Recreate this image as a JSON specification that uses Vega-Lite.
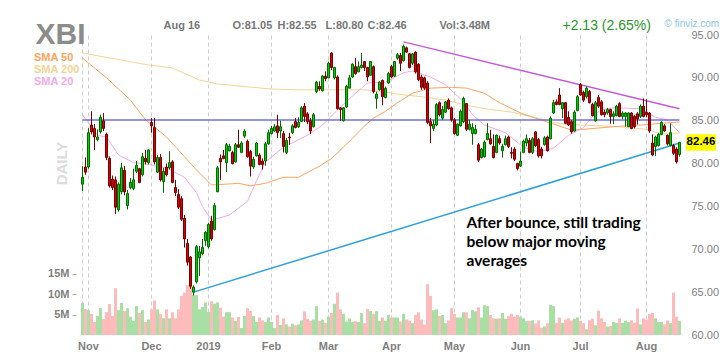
{
"$schema": "https://vega.github.io/schema/vega-lite/v6.json",
"width": 600, "height": 300,
"autosize": {"type": "none"},
"padding": {"left": 81, "top": 35, "right": 47, "bottom": 21},
"background": "white",
"config": {"view": {"stroke": null}, "font": "Liberation Sans",
"axisRight": {"grid": true, "gridColor": "#cfcfcf", "gridDash": [4,3], "domain": false, "ticks": false, "labelPadding": 10, "labelFontSize": 11, "labelColor": "#808080"}},
"datasets": {
"px": [
{"d":"2018-10-30","o":77.6,"h":79.7,"l":76.8,"c":78.4,"v":7.9},
{"d":"2018-10-31","o":79.6,"h":80.7,"l":78.7,"c":79.0,"v":6.4},
{"d":"2018-11-01","o":79.6,"h":84.15,"l":79.4,"c":83.6,"v":6.1},
{"d":"2018-11-02","o":84.5,"h":86.1,"l":83.4,"c":83.7,"v":5.2},
{"d":"2018-11-05","o":84.1,"h":84.6,"l":81.6,"c":83.1,"v":3.2},
{"d":"2018-11-06","o":82.8,"h":84.0,"l":82.6,"c":83.1,"v":4.7},
{"d":"2018-11-07","o":83.7,"h":85.7,"l":83.5,"c":85.4,"v":6.6},
{"d":"2018-11-08","o":85.0,"h":85.9,"l":83.8,"c":84.1,"v":3.9},
{"d":"2018-11-09","o":83.4,"h":83.6,"l":80.4,"c":80.7,"v":5.6},
{"d":"2018-11-12","o":80.6,"h":80.85,"l":77.2,"c":77.4,"v":7.6},
{"d":"2018-11-13","o":78.2,"h":78.6,"l":76.9,"c":77.2,"v":4.7},
{"d":"2018-11-14","o":78.1,"h":78.5,"l":74.1,"c":74.9,"v":11.5},
{"d":"2018-11-15","o":74.6,"h":77.8,"l":74.4,"c":77.6,"v":6.1},
{"d":"2018-11-16","o":76.7,"h":80.1,"l":76.4,"c":79.5,"v":7.9},
{"d":"2018-11-19","o":79.2,"h":79.7,"l":76.3,"c":76.7,"v":5.9},
{"d":"2018-11-20","o":75.1,"h":76.9,"l":74.65,"c":76.5,"v":6.6},
{"d":"2018-11-21","o":77.2,"h":78.3,"l":77.0,"c":77.8,"v":4.5},
{"d":"2018-11-23","o":77.1,"h":79.4,"l":76.9,"c":78.1,"v":3.5},
{"d":"2018-11-26","o":79.1,"h":80.3,"l":78.9,"c":79.8,"v":7.1},
{"d":"2018-11-27","o":79.4,"h":79.5,"l":77.7,"c":77.8,"v":5.4},
{"d":"2018-11-28","o":78.7,"h":81.25,"l":78.5,"c":80.8,"v":6.1},
{"d":"2018-11-29","o":80.6,"h":81.6,"l":79.9,"c":80.2,"v":3.2},
{"d":"2018-11-30","o":80.1,"h":81.6,"l":79.9,"c":81.6,"v":3.8},
{"d":"2018-12-03","o":84.8,"h":85.3,"l":83.6,"c":84.4,"v":6.3},
{"d":"2018-12-04","o":84.2,"h":85.3,"l":79.9,"c":80.2,"v":8.5},
{"d":"2018-12-06","o":79.0,"h":81.0,"l":78.9,"c":80.7,"v":6.3},
{"d":"2018-12-07","o":80.7,"h":81.1,"l":77.9,"c":78.1,"v":5.2},
{"d":"2018-12-10","o":77.9,"h":79.5,"l":76.6,"c":79.1,"v":4.1},
{"d":"2018-12-11","o":79.6,"h":80.0,"l":78.5,"c":78.7,"v":6.3},
{"d":"2018-12-12","o":79.5,"h":81.45,"l":79.3,"c":80.1,"v":4.1},
{"d":"2018-12-13","o":80.2,"h":80.4,"l":77.7,"c":77.8,"v":5.6},
{"d":"2018-12-14","o":77.2,"h":78.1,"l":76.2,"c":76.6,"v":4.1},
{"d":"2018-12-17","o":76.4,"h":77.0,"l":74.7,"c":74.9,"v":6.3},
{"d":"2018-12-18","o":75.9,"h":76.2,"l":73.3,"c":73.5,"v":9.6},
{"d":"2018-12-19","o":73.6,"h":74.0,"l":70.2,"c":71.2,"v":10.4},
{"d":"2018-12-20","o":70.7,"h":71.2,"l":68.1,"c":68.5,"v":12.3},
{"d":"2018-12-21","o":69.1,"h":69.2,"l":65.4,"c":65.7,"v":12.3},
{"d":"2018-12-24","o":65.0,"h":65.8,"l":64.6,"c":65.6,"v":9.8},
{"d":"2018-12-26","o":66.2,"h":70.5,"l":66.0,"c":70.3,"v":9.8},
{"d":"2018-12-27","o":69.0,"h":70.4,"l":66.9,"c":69.7,"v":6.3},
{"d":"2018-12-28","o":69.5,"h":71.2,"l":69.3,"c":70.2,"v":6.9},
{"d":"2018-12-31","o":71.0,"h":72.1,"l":70.4,"c":72.0,"v":8.0},
{"d":"2019-01-02","o":70.3,"h":73.1,"l":70.1,"c":72.9,"v":5.7},
{"d":"2019-01-03","o":73.3,"h":73.9,"l":71.0,"c":71.2,"v":8.3},
{"d":"2019-01-04","o":72.3,"h":75.4,"l":72.2,"c":75.1,"v":7.7},
{"d":"2019-01-07","o":76.7,"h":79.7,"l":76.7,"c":79.5,"v":8.0},
{"d":"2019-01-08","o":80.6,"h":81.05,"l":78.1,"c":80.2,"v":6.7},
{"d":"2019-01-09","o":80.9,"h":81.6,"l":80.5,"c":80.6,"v":4.5},
{"d":"2019-01-10","o":80.1,"h":82.4,"l":79.0,"c":82.2,"v":5.6},
{"d":"2019-01-11","o":81.5,"h":82.3,"l":81.4,"c":82.0,"v":5.6},
{"d":"2019-01-14","o":81.3,"h":81.5,"l":79.9,"c":80.0,"v":4.3},
{"d":"2019-01-15","o":80.2,"h":82.4,"l":80.1,"c":82.2,"v":3.5},
{"d":"2019-01-16","o":82.2,"h":83.95,"l":81.8,"c":81.9,"v":4.4},
{"d":"2019-01-17","o":81.3,"h":82.6,"l":81.2,"c":82.4,"v":1.7},
{"d":"2019-01-18","o":83.2,"h":84.0,"l":83.0,"c":83.8,"v":4.7},
{"d":"2019-01-22","o":82.6,"h":82.8,"l":80.7,"c":80.8,"v":6.6},
{"d":"2019-01-23","o":81.4,"h":81.6,"l":78.5,"c":79.7,"v":5.9},
{"d":"2019-01-24","o":79.6,"h":80.8,"l":79.4,"c":80.5,"v":4.7},
{"d":"2019-01-25","o":80.9,"h":82.5,"l":80.8,"c":82.4,"v":3.2},
{"d":"2019-01-28","o":81.0,"h":81.2,"l":79.8,"c":79.9,"v":4.3},
{"d":"2019-01-29","o":80.3,"h":80.6,"l":79.3,"c":79.9,"v":3.6},
{"d":"2019-01-30","o":80.3,"h":82.5,"l":79.75,"c":82.3,"v":3.2},
{"d":"2019-01-31","o":82.3,"h":83.95,"l":82.2,"c":83.6,"v":4.3},
{"d":"2019-02-01","o":83.5,"h":84.4,"l":83.4,"c":84.1,"v":3.2},
{"d":"2019-02-04","o":83.8,"h":84.6,"l":83.7,"c":84.3,"v":1.7},
{"d":"2019-02-05","o":84.4,"h":85.7,"l":83.0,"c":83.6,"v":4.9},
{"d":"2019-02-06","o":83.8,"h":85.0,"l":83.0,"c":84.3,"v":2.5},
{"d":"2019-02-07","o":83.5,"h":83.8,"l":81.3,"c":82.0,"v":4.1},
{"d":"2019-02-08","o":81.3,"h":83.0,"l":81.1,"c":82.7,"v":2.6},
{"d":"2019-02-11","o":83.1,"h":83.6,"l":82.2,"c":83.0,"v":2.1},
{"d":"2019-02-12","o":83.6,"h":84.6,"l":83.45,"c":84.4,"v":2.8},
{"d":"2019-02-13","o":84.9,"h":85.3,"l":84.1,"c":84.2,"v":2.4},
{"d":"2019-02-14","o":84.3,"h":85.4,"l":84.15,"c":84.8,"v":2.6},
{"d":"2019-02-15","o":84.9,"h":86.7,"l":84.85,"c":86.5,"v":3.6},
{"d":"2019-02-19","o":86.7,"h":87.05,"l":84.85,"c":85.5,"v":5.8},
{"d":"2019-02-20","o":85.8,"h":86.0,"l":84.6,"c":84.9,"v":4.0},
{"d":"2019-02-21","o":85.0,"h":85.3,"l":83.45,"c":83.8,"v":3.5},
{"d":"2019-02-22","o":84.3,"h":85.9,"l":84.2,"c":85.7,"v":3.8},
{"d":"2019-02-25","o":88.4,"h":89.65,"l":88.2,"c":89.5,"v":7.1},
{"d":"2019-02-26","o":89.0,"h":89.6,"l":88.5,"c":88.7,"v":3.5},
{"d":"2019-02-27","o":88.5,"h":90.35,"l":88.4,"c":90.2,"v":3.8},
{"d":"2019-02-28","o":90.2,"h":90.75,"l":89.6,"c":89.9,"v":3.0},
{"d":"2019-03-01","o":90.0,"h":91.9,"l":90.0,"c":91.7,"v":4.5},
{"d":"2019-03-04","o":92.9,"h":93.0,"l":90.9,"c":91.2,"v":5.4},
{"d":"2019-03-05","o":90.0,"h":91.3,"l":89.8,"c":91.2,"v":7.7},
{"d":"2019-03-06","o":90.1,"h":90.3,"l":86.3,"c":86.4,"v":10.4},
{"d":"2019-03-07","o":86.5,"h":86.6,"l":85.0,"c":86.3,"v":6.3},
{"d":"2019-03-08","o":85.0,"h":86.6,"l":84.9,"c":86.5,"v":5.2},
{"d":"2019-03-11","o":86.6,"h":89.2,"l":86.5,"c":89.0,"v":3.3},
{"d":"2019-03-12","o":88.8,"h":90.35,"l":88.8,"c":90.0,"v":4.1},
{"d":"2019-03-13","o":90.1,"h":91.7,"l":90.0,"c":91.6,"v":3.2},
{"d":"2019-03-14","o":91.3,"h":92.3,"l":90.35,"c":90.5,"v":3.4},
{"d":"2019-03-15","o":90.7,"h":91.9,"l":90.65,"c":91.3,"v":3.2},
{"d":"2019-03-18","o":91.2,"h":92.9,"l":91.1,"c":91.5,"v":5.4},
{"d":"2019-03-19","o":91.9,"h":91.9,"l":90.8,"c":91.2,"v":2.9},
{"d":"2019-03-20","o":91.2,"h":91.3,"l":89.6,"c":90.1,"v":6.4},
{"d":"2019-03-21","o":90.3,"h":91.9,"l":90.3,"c":91.9,"v":5.9},
{"d":"2019-03-22","o":91.3,"h":91.45,"l":88.2,"c":88.4,"v":5.2},
{"d":"2019-03-25","o":87.6,"h":88.4,"l":86.4,"c":88.1,"v":5.9},
{"d":"2019-03-26","o":88.6,"h":89.6,"l":88.5,"c":89.5,"v":3.5},
{"d":"2019-03-27","o":89.7,"h":89.8,"l":86.8,"c":87.8,"v":4.3},
{"d":"2019-03-28","o":87.7,"h":89.0,"l":87.6,"c":88.8,"v":3.5},
{"d":"2019-03-29","o":89.4,"h":90.7,"l":89.3,"c":90.5,"v":4.9},
{"d":"2019-04-01","o":91.3,"h":91.5,"l":90.0,"c":90.1,"v":4.3},
{"d":"2019-04-02","o":90.2,"h":91.9,"l":90.15,"c":91.9,"v":4.3},
{"d":"2019-04-03","o":92.3,"h":92.9,"l":92.1,"c":92.7,"v":4.3},
{"d":"2019-04-04","o":92.6,"h":92.9,"l":90.8,"c":91.7,"v":3.3},
{"d":"2019-04-05","o":92.0,"h":93.9,"l":91.9,"c":93.7,"v":5.2},
{"d":"2019-04-08","o":93.5,"h":93.65,"l":92.9,"c":93.0,"v":3.8},
{"d":"2019-04-09","o":92.8,"h":92.9,"l":91.1,"c":91.2,"v":3.5},
{"d":"2019-04-10","o":91.7,"h":92.9,"l":91.5,"c":92.8,"v":2.9},
{"d":"2019-04-11","o":93.0,"h":93.1,"l":90.5,"c":90.7,"v":4.9},
{"d":"2019-04-12","o":91.6,"h":91.7,"l":89.6,"c":89.8,"v":5.6},
{"d":"2019-04-15","o":90.1,"h":90.35,"l":88.6,"c":88.9,"v":3.8},
{"d":"2019-04-16","o":90.0,"h":90.15,"l":88.6,"c":88.8,"v":2.6},
{"d":"2019-04-17","o":89.4,"h":89.6,"l":84.6,"c":84.8,"v":12.5},
{"d":"2019-04-18","o":84.9,"h":85.3,"l":82.4,"c":84.4,"v":9.6},
{"d":"2019-04-22","o":84.1,"h":85.1,"l":83.8,"c":84.6,"v":6.1},
{"d":"2019-04-23","o":84.5,"h":87.05,"l":84.35,"c":86.9,"v":6.3},
{"d":"2019-04-24","o":87.1,"h":87.25,"l":85.5,"c":85.7,"v":4.7},
{"d":"2019-04-25","o":85.3,"h":86.7,"l":85.1,"c":86.3,"v":4.9},
{"d":"2019-04-26","o":86.0,"h":87.3,"l":85.9,"c":87.2,"v":2.9},
{"d":"2019-04-29","o":87.4,"h":87.6,"l":86.3,"c":86.4,"v":3.6},
{"d":"2019-04-30","o":86.5,"h":86.65,"l":84.9,"c":85.1,"v":6.6},
{"d":"2019-05-01","o":85.1,"h":85.3,"l":83.4,"c":83.5,"v":5.2},
{"d":"2019-05-02","o":83.3,"h":84.7,"l":83.2,"c":84.6,"v":4.3},
{"d":"2019-05-03","o":84.4,"h":86.3,"l":84.3,"c":86.1,"v":4.3},
{"d":"2019-05-06","o":84.9,"h":87.8,"l":84.7,"c":87.6,"v":5.6},
{"d":"2019-05-07","o":87.0,"h":87.05,"l":83.8,"c":84.0,"v":5.6},
{"d":"2019-05-08","o":84.0,"h":85.1,"l":83.85,"c":84.6,"v":4.1},
{"d":"2019-05-09","o":83.5,"h":84.7,"l":82.2,"c":84.2,"v":6.1},
{"d":"2019-05-10","o":83.5,"h":84.5,"l":83.4,"c":84.0,"v":5.8},
{"d":"2019-05-13","o":82.2,"h":82.4,"l":80.2,"c":80.4,"v":6.8},
{"d":"2019-05-14","o":80.7,"h":81.8,"l":80.6,"c":81.7,"v":4.3},
{"d":"2019-05-15","o":80.8,"h":82.7,"l":80.7,"c":82.5,"v":7.3},
{"d":"2019-05-16","o":82.8,"h":84.7,"l":82.7,"c":83.5,"v":7.1},
{"d":"2019-05-17","o":82.9,"h":83.95,"l":82.2,"c":82.3,"v":4.9},
{"d":"2019-05-20","o":82.0,"h":83.4,"l":80.6,"c":80.7,"v":4.1},
{"d":"2019-05-21","o":81.3,"h":83.4,"l":81.2,"c":83.3,"v":4.0},
{"d":"2019-05-22","o":82.9,"h":83.25,"l":82.2,"c":82.4,"v":4.1},
{"d":"2019-05-23","o":81.5,"h":82.3,"l":80.7,"c":82.0,"v":5.4},
{"d":"2019-05-24","o":82.2,"h":83.25,"l":82.1,"c":82.9,"v":4.0},
{"d":"2019-05-28","o":83.1,"h":83.25,"l":81.8,"c":82.0,"v":4.7},
{"d":"2019-05-29","o":81.3,"h":81.9,"l":80.6,"c":81.2,"v":5.2},
{"d":"2019-05-30","o":81.7,"h":81.9,"l":80.3,"c":80.5,"v":4.5},
{"d":"2019-05-31","o":80.0,"h":80.1,"l":79.2,"c":79.4,"v":4.9},
{"d":"2019-06-03","o":79.7,"h":81.4,"l":79.6,"c":80.3,"v":4.5},
{"d":"2019-06-04","o":81.3,"h":82.8,"l":81.2,"c":82.6,"v":4.1},
{"d":"2019-06-05","o":82.4,"h":83.4,"l":82.0,"c":82.9,"v":3.4},
{"d":"2019-06-06","o":82.7,"h":83.0,"l":81.2,"c":81.3,"v":3.5},
{"d":"2019-06-07","o":81.3,"h":83.1,"l":81.1,"c":82.9,"v":3.6},
{"d":"2019-06-10","o":83.7,"h":83.8,"l":81.95,"c":82.1,"v":2.8},
{"d":"2019-06-11","o":82.8,"h":83.0,"l":80.7,"c":80.9,"v":3.6},
{"d":"2019-06-12","o":81.7,"h":81.95,"l":80.6,"c":80.9,"v":1.8},
{"d":"2019-06-13","o":82.2,"h":83.2,"l":82.1,"c":83.0,"v":2.1},
{"d":"2019-06-14","o":83.1,"h":83.25,"l":81.4,"c":81.5,"v":2.9},
{"d":"2019-06-17","o":82.9,"h":85.5,"l":82.8,"c":85.3,"v":7.4},
{"d":"2019-06-18","o":85.9,"h":87.45,"l":85.8,"c":87.1,"v":7.1},
{"d":"2019-06-19","o":87.2,"h":87.5,"l":86.8,"c":86.9,"v":3.0},
{"d":"2019-06-20","o":88.0,"h":88.8,"l":86.8,"c":86.9,"v":4.3},
{"d":"2019-06-21","o":86.4,"h":87.2,"l":85.3,"c":87.1,"v":3.0},
{"d":"2019-06-24","o":87.1,"h":87.2,"l":84.6,"c":84.7,"v":3.8},
{"d":"2019-06-25","o":85.4,"h":86.1,"l":84.4,"c":84.5,"v":4.1},
{"d":"2019-06-26","o":84.9,"h":85.1,"l":83.5,"c":83.7,"v":3.6},
{"d":"2019-06-27","o":83.8,"h":86.2,"l":83.7,"c":86.0,"v":4.0},
{"d":"2019-06-28","o":86.2,"h":88.0,"l":86.1,"c":87.8,"v":4.3},
{"d":"2019-07-01","o":89.2,"h":89.4,"l":87.9,"c":88.0,"v":3.5},
{"d":"2019-07-02","o":88.3,"h":88.5,"l":87.2,"c":87.4,"v":2.9},
{"d":"2019-07-03","o":87.8,"h":89.0,"l":87.6,"c":88.8,"v":1.4},
{"d":"2019-07-05","o":88.4,"h":88.6,"l":87.0,"c":87.1,"v":3.6},
{"d":"2019-07-08","o":86.9,"h":87.1,"l":85.5,"c":85.6,"v":4.0},
{"d":"2019-07-09","o":85.0,"h":87.3,"l":84.9,"c":87.1,"v":2.4},
{"d":"2019-07-10","o":87.7,"h":88.0,"l":86.5,"c":86.7,"v":6.0},
{"d":"2019-07-11","o":87.2,"h":87.4,"l":85.6,"c":85.7,"v":4.1},
{"d":"2019-07-12","o":86.0,"h":86.3,"l":85.4,"c":85.7,"v":3.2},
{"d":"2019-07-15","o":85.9,"h":86.5,"l":85.7,"c":86.3,"v":2.1},
{"d":"2019-07-16","o":86.3,"h":86.4,"l":84.65,"c":85.5,"v":2.2},
{"d":"2019-07-17","o":85.5,"h":86.1,"l":84.6,"c":85.8,"v":3.2},
{"d":"2019-07-18","o":85.6,"h":86.85,"l":85.5,"c":86.7,"v":3.0},
{"d":"2019-07-19","o":87.0,"h":87.15,"l":85.4,"c":85.5,"v":4.1},
{"d":"2019-07-22","o":85.5,"h":86.1,"l":85.2,"c":85.9,"v":3.0},
{"d":"2019-07-23","o":85.5,"h":86.0,"l":84.3,"c":85.9,"v":3.5},
{"d":"2019-07-24","o":84.3,"h":86.0,"l":84.3,"c":85.9,"v":3.2},
{"d":"2019-07-25","o":85.9,"h":86.0,"l":84.0,"c":84.1,"v":3.6},
{"d":"2019-07-26","o":85.5,"h":85.7,"l":84.1,"c":84.3,"v":3.0},
{"d":"2019-07-29","o":85.8,"h":86.0,"l":84.55,"c":85.2,"v":6.5},
{"d":"2019-07-30","o":85.5,"h":86.9,"l":85.3,"c":86.7,"v":2.6},
{"d":"2019-07-31","o":86.7,"h":87.6,"l":85.4,"c":85.5,"v":4.1},
{"d":"2019-08-01","o":86.0,"h":87.5,"l":85.4,"c":85.7,"v":3.8},
{"d":"2019-08-02","o":85.9,"h":86.0,"l":83.6,"c":83.8,"v":5.2},
{"d":"2019-08-05","o":82.4,"h":83.4,"l":80.85,"c":81.0,"v":5.4},
{"d":"2019-08-06","o":82.0,"h":83.25,"l":80.9,"c":83.1,"v":4.1},
{"d":"2019-08-07","o":82.1,"h":83.6,"l":82.0,"c":83.4,"v":3.2},
{"d":"2019-08-08","o":83.4,"h":84.95,"l":83.3,"c":84.8,"v":3.2},
{"d":"2019-08-09","o":84.4,"h":84.6,"l":83.7,"c":83.8,"v":2.6},
{"d":"2019-08-12","o":83.3,"h":83.4,"l":82.1,"c":82.3,"v":3.6},
{"d":"2019-08-13","o":82.1,"h":84.7,"l":82.0,"c":83.6,"v":2.9},
{"d":"2019-08-14","o":82.1,"h":82.3,"l":81.0,"c":81.2,"v":10.4},
{"d":"2019-08-15","o":81.7,"h":81.9,"l":80.0,"c":80.2,"v":4.5},
{"d":"2019-08-16","o":81.05,"h":82.55,"l":80.8,"c":82.46,"v":3.48}
],
"sma": [
{"k":"SMA 200","d":"2018-10-30","p":92.9},{"k":"SMA 200","d":"2018-11-30","p":91.5},{"k":"SMA 200","d":"2018-12-13","p":91.15},{"k":"SMA 200","d":"2018-12-27","p":89.75},{"k":"SMA 200","d":"2019-01-07","p":89.3},{"k":"SMA 200","d":"2019-01-16","p":89.05},{"k":"SMA 200","d":"2019-02-01","p":88.7},{"k":"SMA 200","d":"2019-02-14","p":88.6},{"k":"SMA 200","d":"2019-03-04","p":88.6},{"k":"SMA 200","d":"2019-03-19","p":88.6},{"k":"SMA 200","d":"2019-03-28","p":88.35},{"k":"SMA 200","d":"2019-04-03","p":88.1},{"k":"SMA 200","d":"2019-04-15","p":87.8},{"k":"SMA 200","d":"2019-04-26","p":87.4},{"k":"SMA 200","d":"2019-05-07","p":86.8},{"k":"SMA 200","d":"2019-05-15","p":86.4},{"k":"SMA 200","d":"2019-05-29","p":86.0},{"k":"SMA 200","d":"2019-06-11","p":85.3},{"k":"SMA 200","d":"2019-06-19","p":84.7},{"k":"SMA 200","d":"2019-07-01","p":84.5},{"k":"SMA 200","d":"2019-07-19","p":84.3},{"k":"SMA 200","d":"2019-08-01","p":84.0},{"k":"SMA 200","d":"2019-08-07","p":83.55},{"k":"SMA 200","d":"2019-08-16","p":83.55},
{"k":"SMA 50","d":"2018-10-30","p":92.3},{"k":"SMA 50","d":"2018-11-09","p":90.0},{"k":"SMA 50","d":"2018-11-21","p":87.4},{"k":"SMA 50","d":"2018-11-29","p":85.1},{"k":"SMA 50","d":"2018-12-11","p":83.1},{"k":"SMA 50","d":"2018-12-19","p":80.8},{"k":"SMA 50","d":"2018-12-26","p":79.25},{"k":"SMA 50","d":"2019-01-03","p":77.5},{"k":"SMA 50","d":"2019-01-10","p":77.6},{"k":"SMA 50","d":"2019-01-16","p":77.7},{"k":"SMA 50","d":"2019-01-23","p":77.4},{"k":"SMA 50","d":"2019-01-30","p":77.7},{"k":"SMA 50","d":"2019-02-07","p":78.4},{"k":"SMA 50","d":"2019-02-14","p":78.4},{"k":"SMA 50","d":"2019-02-26","p":79.7},{"k":"SMA 50","d":"2019-03-04","p":80.6},{"k":"SMA 50","d":"2019-03-12","p":82.6},{"k":"SMA 50","d":"2019-03-19","p":84.4},{"k":"SMA 50","d":"2019-03-22","p":85.3},{"k":"SMA 50","d":"2019-03-28","p":86.1},{"k":"SMA 50","d":"2019-04-03","p":87.1},{"k":"SMA 50","d":"2019-04-10","p":88.2},{"k":"SMA 50","d":"2019-04-18","p":88.8},{"k":"SMA 50","d":"2019-04-30","p":88.9},{"k":"SMA 50","d":"2019-05-07","p":88.8},{"k":"SMA 50","d":"2019-05-15","p":88.2},{"k":"SMA 50","d":"2019-05-22","p":87.1},{"k":"SMA 50","d":"2019-06-03","p":85.9},{"k":"SMA 50","d":"2019-06-10","p":85.3},{"k":"SMA 50","d":"2019-06-19","p":84.5},{"k":"SMA 50","d":"2019-06-26","p":83.9},{"k":"SMA 50","d":"2019-07-02","p":84.0},{"k":"SMA 50","d":"2019-07-17","p":84.3},{"k":"SMA 50","d":"2019-07-30","p":84.5},{"k":"SMA 50","d":"2019-08-08","p":84.7},{"k":"SMA 50","d":"2019-08-16","p":84.85},
{"k":"SMA 20","d":"2018-10-30","p":85.7},{"k":"SMA 20","d":"2018-11-06","p":83.3},{"k":"SMA 20","d":"2018-11-09","p":83.1},{"k":"SMA 20","d":"2018-11-15","p":81.0},{"k":"SMA 20","d":"2018-11-23","p":80.1},{"k":"SMA 20","d":"2018-11-29","p":79.95},{"k":"SMA 20","d":"2018-12-11","p":79.5},{"k":"SMA 20","d":"2018-12-19","p":78.4},{"k":"SMA 20","d":"2018-12-26","p":76.6},{"k":"SMA 20","d":"2018-12-28","p":75.0},{"k":"SMA 20","d":"2019-01-03","p":73.4},{"k":"SMA 20","d":"2019-01-11","p":74.0},{"k":"SMA 20","d":"2019-01-22","p":75.6},{"k":"SMA 20","d":"2019-01-25","p":78.0},{"k":"SMA 20","d":"2019-01-30","p":80.2},{"k":"SMA 20","d":"2019-02-07","p":81.9},{"k":"SMA 20","d":"2019-02-20","p":83.3},{"k":"SMA 20","d":"2019-02-27","p":84.5},{"k":"SMA 20","d":"2019-03-07","p":86.6},{"k":"SMA 20","d":"2019-03-14","p":88.2},{"k":"SMA 20","d":"2019-03-20","p":89.4},{"k":"SMA 20","d":"2019-03-28","p":89.5},{"k":"SMA 20","d":"2019-04-05","p":90.6},{"k":"SMA 20","d":"2019-04-10","p":90.8},{"k":"SMA 20","d":"2019-04-18","p":90.1},{"k":"SMA 20","d":"2019-04-26","p":89.2},{"k":"SMA 20","d":"2019-05-06","p":87.2},{"k":"SMA 20","d":"2019-05-09","p":85.7},{"k":"SMA 20","d":"2019-05-15","p":84.5},{"k":"SMA 20","d":"2019-05-24","p":83.6},{"k":"SMA 20","d":"2019-06-04","p":81.9},{"k":"SMA 20","d":"2019-06-11","p":81.35},{"k":"SMA 20","d":"2019-06-18","p":81.8},{"k":"SMA 20","d":"2019-06-25","p":83.3},{"k":"SMA 20","d":"2019-07-02","p":84.2},{"k":"SMA 20","d":"2019-07-08","p":85.5},{"k":"SMA 20","d":"2019-07-11","p":86.3},{"k":"SMA 20","d":"2019-07-17","p":86.5},{"k":"SMA 20","d":"2019-07-30","p":86.4},{"k":"SMA 20","d":"2019-08-06","p":85.4},{"k":"SMA 20","d":"2019-08-12","p":85.1},{"k":"SMA 20","d":"2019-08-16","p":83.6}
]
},
"encoding": {
"x": {"field": "d", "type": "ordinal", "title": null,
"scale": {"type": "band", "paddingInner": 0, "paddingOuter": 0},
"axis": {"values": ["2018-10-30","2018-11-01","2018-12-03","2019-01-02","2019-02-01","2019-03-01","2019-04-01","2019-05-01","2019-06-03","2019-07-01","2019-08-01"],
"labelExpr": "datum.value == '2019-01-02' ? '2019' : datum.value == '2018-10-30' ? '' : ['','Jan','Feb','Mar','Apr','May','Jun','Jul','Aug','Sep','Oct','Nov','Dec'][toNumber(slice(datum.value,5,7))]",
"grid": true, "gridColor": "#cfcfcf", "gridDash": [4,3], "ticks": false, "domain": false, "labelAngle": 0,
"labelPadding": 5, "labelFontSize": 11, "labelFontWeight": "bold", "labelColor": "#808080", "bandPosition": 0.5, "labelOverlap": false, "title": null}}
},
"layer": [
{
"data": {"name": "px"},
"mark": {"type": "bar"},
"encoding": {
"y": {"field": "v", "type": "quantitative", "scale": {"domain": [0, 73.7], "nice": false},
"axis": {"orient": "left", "values": [5,10,15], "labelExpr": "datum.value + 'M'", "grid": false, "domain": false,
"ticks": true, "tickSize": 4, "tickColor": "#aaaaaa", "offset": 5, "labelPadding": 3,
"labelFontWeight": "bold", "labelFontSize": 11, "labelColor": "#808080",
"title": "DAILY", "titleAngle": 270, "titleColor": "#dcdcdc", "titleFontSize": 15, "titleFontWeight": "bold",
"titleX": -14.7, "titleY": 128, "titleAlign": "center", "titleBaseline": "middle"}},
"color": {"condition": {"test": "datum.c >= datum.o", "value": "#a9dea4"}, "value": "#fcbcbc"}
}
},
{
"layer": [
{
"data": {"name": "sma"},
"mark": {"type": "line", "strokeWidth": 1},
"encoding": {
"y": {"field": "p", "type": "quantitative", "scale": {"domain": [60, 95], "nice": false, "zero": false},
"axis": {"orient": "right", "values": [60,65,70,75,80,85,90,95], "format": ".2f", "title": null}},
"color": {"field": "k", "type": "nominal", "legend": null,
"scale": {"domain": ["SMA 50","SMA 200","SMA 20"], "range": ["#ffa35e","#f3d495","#f2aae8"]}}
}
},
{
"data": {"values": [{"d": "2018-10-30", "p": 85.08}, {"d": "2019-08-16", "p": 85.08}]},
"mark": {"type": "line", "color": "#7171d8", "strokeWidth": 1.5},
"encoding": {"y": {"field": "p", "type": "quantitative", "scale": {"domain": [60, 95], "nice": false, "zero": false}, "axis": {"orient": "right", "values": [60,65,70,75,80,85,90,95], "format": ".2f", "title": null}}}
},
{
"data": {"values": [{"d": "2019-04-05", "p": 94.2}, {"d": "2019-08-16", "p": 86.4}]},
"mark": {"type": "line", "color": "#c45bd6", "strokeWidth": 1.5},
"encoding": {"y": {"field": "p", "type": "quantitative", "scale": {"domain": [60, 95], "nice": false, "zero": false}, "axis": {"orient": "right", "values": [60,65,70,75,80,85,90,95], "format": ".2f", "title": null}}}
},
{
"data": {"values": [{"d": "2018-12-24", "p": 65.0}, {"d": "2019-08-16", "p": 82.4}]},
"mark": {"type": "line", "color": "#2c9fe0", "strokeWidth": 1.5},
"encoding": {"y": {"field": "p", "type": "quantitative", "scale": {"domain": [60, 95], "nice": false, "zero": false}, "axis": {"orient": "right", "values": [60,65,70,75,80,85,90,95], "format": ".2f", "title": null}}}
},
{
"data": {"name": "px"},
"mark": {"type": "rule", "strokeWidth": 1},
"encoding": {
"y": {"field": "l", "type": "quantitative", "scale": {"domain": [60, 95], "nice": false, "zero": false}, "axis": {"orient": "right", "values": [60,65,70,75,80,85,90,95], "format": ".2f", "title": null}},
"y2": {"field": "h"},
"color": {"condition": {"test": "datum.c >= datum.o", "value": "#006a00"}, "value": "#7a0000"}
}
},
{
"data": {"name": "px"},
"mark": {"type": "bar", "width": 2, "strokeWidth": 1},
"encoding": {
"y": {"field": "o", "type": "quantitative", "scale": {"domain": [60, 95], "nice": false, "zero": false}, "axis": {"orient": "right", "values": [60,65,70,75,80,85,90,95], "format": ".2f", "title": null}},
"y2": {"field": "c"},
"fill": {"condition": {"test": "datum.c >= datum.o", "value": "#00d200"}, "value": "#dc0000"},
"stroke": {"condition": {"test": "datum.c >= datum.o", "value": "#006a00"}, "value": "#7a0000"}
}
},
{
"data": {"values": [
{"d": "2019-05-07", "p": 72.45, "t": "After bounce, still trading"},
{"d": "2019-05-07", "p": 70.23, "t": "below major moving"},
{"d": "2019-05-07", "p": 68.05, "t": "averages"}]},
"mark": {"type": "text", "font": "Lato", "fontWeight": "bold", "fontSize": 15.5, "color": "#000000", "align": "left", "baseline": "alphabetic"},
"encoding": {"y": {"field": "p", "type": "quantitative", "scale": {"domain": [60, 95], "nice": false, "zero": false}, "axis": {"orient": "right", "values": [60,65,70,75,80,85,90,95], "format": ".2f", "title": null}}, "text": {"field": "t"}}
},
{
"data": {"values": [{"d": "2018-10-31", "p": 93.92, "t": "XBI"}]},
"mark": {"type": "text", "fontWeight": "bold", "fontSize": 30, "color": "#8c8c8c", "align": "right", "baseline": "alphabetic"},
"encoding": {"y": {"field": "p", "type": "quantitative", "scale": {"domain": [60, 95], "nice": false, "zero": false}, "axis": {"orient": "right", "values": [60,65,70,75,80,85,90,95], "format": ".2f", "title": null}}, "text": {"field": "t"}}
},
{
"data": {"values": [
{"d": "2018-10-30", "p": 91.97, "k": "SMA 50"},
{"d": "2018-10-30", "p": 90.57, "k": "SMA 200"},
{"d": "2018-10-30", "p": 89.17, "k": "SMA 20"}]},
"mark": {"type": "text", "fontWeight": "bold", "fontSize": 11, "align": "left", "baseline": "alphabetic", "dx": -48.5},
"encoding": {"y": {"field": "p", "type": "quantitative", "scale": {"domain": [60, 95], "nice": false, "zero": false}, "axis": {"orient": "right", "values": [60,65,70,75,80,85,90,95], "format": ".2f", "title": null}}, "text": {"field": "k"},
"color": {"field": "k", "type": "nominal", "legend": null, "scale": {"domain": ["SMA 50","SMA 200","SMA 20"], "range": ["#ffa35e","#f3d495","#f2aae8"]}}}
},
{
"data": {"values": [
{"d": "2018-12-10", "p": 95.66, "t": "Aug 16"},
{"d": "2019-01-14", "p": 95.66, "t": "O:81.05"},
{"d": "2019-02-05", "p": 95.66, "t": "H:82.55"},
{"d": "2019-02-28", "p": 95.66, "t": "L:80.80"},
{"d": "2019-03-20", "p": 95.66, "t": "C:82.46"},
{"d": "2019-04-24", "p": 95.66, "t": "Vol:3.48M"}]},
"mark": {"type": "text", "fontWeight": "bold", "fontSize": 11, "color": "#777777", "align": "left", "baseline": "alphabetic"},
"encoding": {"y": {"field": "p", "type": "quantitative", "scale": {"domain": [60, 95], "nice": false, "zero": false}, "axis": {"orient": "right", "values": [60,65,70,75,80,85,90,95], "format": ".2f", "title": null}}, "text": {"field": "t"}}
},
{
"data": {"values": [{"d": "2019-06-21", "p": 95.53, "t": "+2.13 (2.65%)"}]},
"mark": {"type": "text", "fontSize": 14, "color": "#1f9a1f", "align": "left", "baseline": "alphabetic"},
"encoding": {"y": {"field": "p", "type": "quantitative", "scale": {"domain": [60, 95], "nice": false, "zero": false}, "axis": {"orient": "right", "values": [60,65,70,75,80,85,90,95], "format": ".2f", "title": null}}, "text": {"field": "t"}}
},
{
"data": {"values": [{"d": "2019-08-09", "p": 95.99, "t": "© finviz.com"}]},
"mark": {"type": "text", "fontSize": 10, "color": "#8cc6e8", "align": "left", "baseline": "alphabetic"},
"encoding": {"y": {"field": "p", "type": "quantitative", "scale": {"domain": [60, 95], "nice": false, "zero": false}, "axis": {"orient": "right", "values": [60,65,70,75,80,85,90,95], "format": ".2f", "title": null}}, "text": {"field": "t"}}
},
{
"data": {"values": [{"d": "2019-08-16", "p": 82.46}]},
"mark": {"type": "point", "shape": "M-1,-0.55H1V0.55H-1Z", "size": 900, "filled": true, "color": "#ffff00", "opacity": 1, "strokeWidth": 0, "xOffset": 21.5},
"encoding": {"y": {"field": "p", "type": "quantitative", "scale": {"domain": [60, 95], "nice": false, "zero": false}, "axis": {"orient": "right", "values": [60,65,70,75,80,85,90,95], "format": ".2f", "title": null}}}
},
{
"data": {"values": [{"d": "2019-08-16", "p": 82.46, "t": "82.46"}]},
"mark": {"type": "text", "fontWeight": "bold", "fontSize": 11.5, "color": "#000000", "align": "center", "baseline": "middle", "xOffset": 21.5},
"encoding": {"y": {"field": "p", "type": "quantitative", "scale": {"domain": [60, 95], "nice": false, "zero": false}, "axis": {"orient": "right", "values": [60,65,70,75,80,85,90,95], "format": ".2f", "title": null}}, "text": {"field": "t"}}
}
]
}
],
"resolve": {"scale": {"y": "independent"}, "axis": {"y": "independent"}}
}
